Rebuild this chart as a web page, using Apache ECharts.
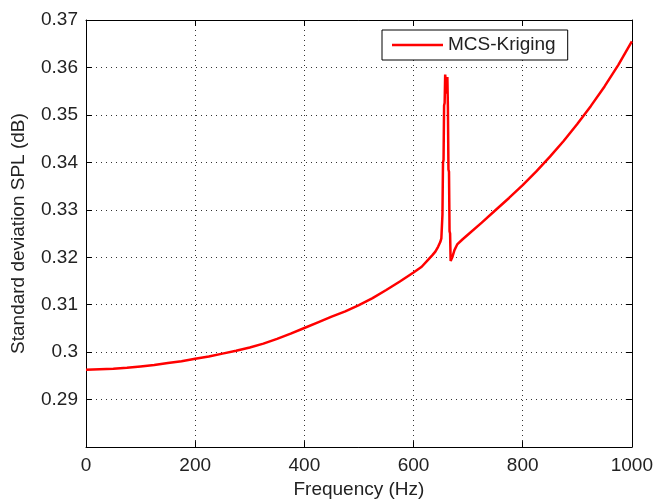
<!DOCTYPE html>
<html>
<head>
<meta charset="utf-8">
<script src="https://cdn.jsdelivr.net/npm/echarts@6/dist/echarts.min.js"></script>
<style>
  html, body { margin: 0; padding: 0; background: #fff; }
  #chart { width: 656px; height: 504px; }
</style>
</head>
<body>
<div id="chart"></div>
<script>
// Standard deviation of SPL over frequency (MCS-Kriging)
const freq = [
  0, 25, 50, 75, 100, 125, 150, 175, 200, 225, 250, 275, 300, 325, 350, 375, 400,
  425, 450, 475, 500, 525, 550, 575, 600, 615, 627, 635, 640, 645, 649,
  651, 652, 653, 654, 655, 656, 657, 658, 660, 661, 662, 663, 664, 665, 666, 667, 668, 669, 671,
  675, 680, 690, 700, 725, 750, 775, 800, 825, 850, 875, 900, 925, 950, 975, 1000
];
const spl = [
  0.2963, 0.2964, 0.2965, 0.2967, 0.2970, 0.2973, 0.2977, 0.2981, 0.2986, 0.2991, 0.2997, 0.3003, 0.3010, 0.3018, 0.3028, 0.3039, 0.3051,
  0.3063, 0.3075, 0.3086, 0.3099, 0.3114, 0.3131, 0.3149, 0.3168, 0.3180, 0.3195, 0.3205, 0.3212, 0.3222, 0.3232,
  0.3240, 0.3265, 0.3290, 0.3400, 0.3405, 0.3520, 0.3525, 0.3585, 0.3585, 0.3545, 0.3580, 0.3515, 0.3385, 0.3380, 0.3255, 0.3250, 0.3192, 0.3190, 0.3200,
  0.3215, 0.3227, 0.3238, 0.3248, 0.3273, 0.3299, 0.3325, 0.3352, 0.3381, 0.3412, 0.3445, 0.3481, 0.3519, 0.3560, 0.3605, 0.3655
];
const xTicks = [0, 200, 400, 600, 800, 1000];
const yTicks = [0.29, 0.30, 0.31, 0.32, 0.33, 0.34, 0.35, 0.36, 0.37];
const yTickText = ['0.29', '0.3', '0.31', '0.32', '0.33', '0.34', '0.35', '0.36', '0.37'];
const seriesName = 'MCS-Kriging';

const FONT = 'Liberation Sans, Arial, sans-serif';
const FS = 19;
const chart = echarts.init(document.getElementById('chart'), null, { renderer: 'canvas' });

const fmtY = v => {
  const i = yTicks.findIndex(t => Math.abs(t - v) < 1e-6);
  return i < 0 ? '' : yTickText[i];
};
const fmtX = v => (xTicks.indexOf(Math.round(v)) >= 0 ? String(Math.round(v)) : '');

const gridLine = { show: true, lineStyle: { color: '#333', width: 1, type: [1, 4] } };
const frame = { show: true, onZero: false, lineStyle: { color: '#000', width: 1 } };
const tick = { show: true, inside: true, length: 6, lineStyle: { color: '#000' } };

chart.setOption({
  animation: false,
  backgroundColor: '#fff',
  grid: { left: 86, right: 23, top: 20, bottom: 53, containLabel: false },
  legend: {
    left: 382, top: 30,
    padding: [5, 12, 5, 10],
    backgroundColor: '#fff',
    borderColor: '#000', borderWidth: 1, borderRadius: 0,
    itemWidth: 51, itemHeight: 14, itemGap: 5,
    textStyle: { fontFamily: FONT, fontSize: FS, color: '#222', lineHeight: 20, padding: [0, 0, 0, 0] },
    data: [{ name: seriesName, icon: 'path://M0,0 L51,0 L51,2.5 L0,2.5 Z', itemStyle: { color: '#ff0000' } }]
  },
  xAxis: [
    {
      type: 'value', min: 0, max: 1000, interval: 200,
      name: 'Frequency (Hz)', nameLocation: 'middle', nameGap: 28,
      nameTextStyle: { fontFamily: FONT, fontSize: FS, color: '#222' },
      axisLine: frame, axisTick: tick, splitLine: gridLine,
      axisLabel: { fontFamily: FONT, fontSize: FS, color: '#222', margin: 9, formatter: fmtX }
    },
    {
      type: 'value', position: 'top', min: 0, max: 1000, interval: 200,
      axisLine: frame, axisTick: tick, splitLine: { show: false }, axisLabel: { show: false }
    }
  ],
  yAxis: [
    {
      type: 'value', min: 0.28, max: 0.37, interval: 0.01,
      name: 'Standard deviation SPL (dB)', nameLocation: 'middle', nameGap: 58,
      nameTextStyle: { fontFamily: FONT, fontSize: FS, color: '#222' },
      axisLine: frame, axisTick: tick, splitLine: gridLine,
      axisLabel: { fontFamily: FONT, fontSize: FS, color: '#222', margin: 8, formatter: fmtY }
    },
    {
      type: 'value', position: 'right', min: 0.28, max: 0.37, interval: 0.01,
      axisLine: frame, axisTick: tick, splitLine: { show: false }, axisLabel: { show: false }
    }
  ],
  series: [{
    name: seriesName,
    type: 'line',
    xAxisIndex: 0, yAxisIndex: 0,
    symbol: 'none',
    smooth: false,
    lineStyle: { color: '#ff0000', width: 2.5 },
    itemStyle: { color: '#ff0000' },
    data: freq.map((f, i) => [f, spl[i]])
  }]
});
</script>
</body>
</html>
